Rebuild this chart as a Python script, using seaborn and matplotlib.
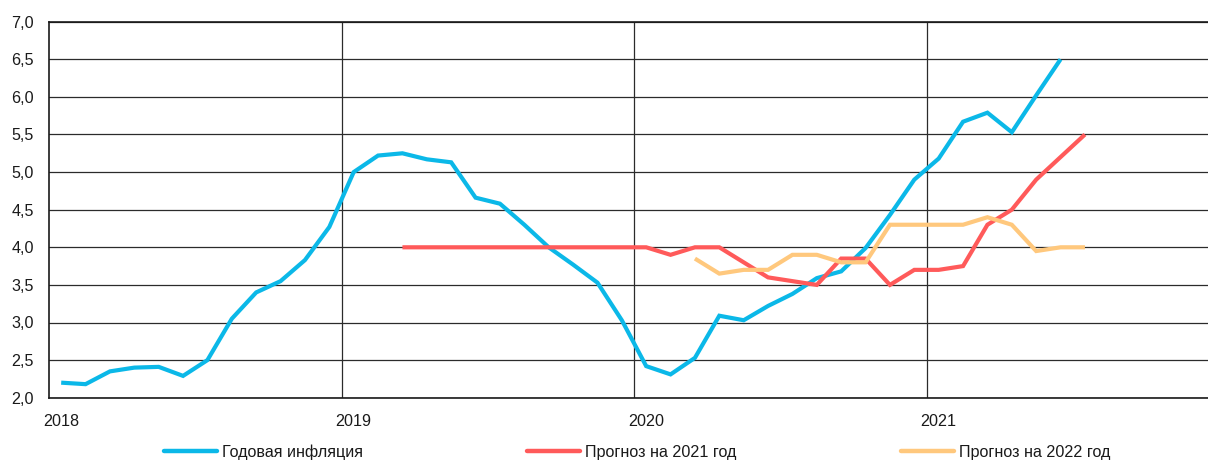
import numpy as np
import pandas as pd
import matplotlib
matplotlib.use("Agg")
import matplotlib.pyplot as plt
import seaborn as sns

# Monthly series, January 2018 onwards (one value per month)
inflation = [2.2, 2.18, 2.35, 2.4, 2.41, 2.29, 2.5, 3.05, 3.4, 3.55, 3.83, 4.27,
             5.0, 5.22, 5.25, 5.17, 5.13, 4.66, 4.58, 4.3, 4.0, 3.77, 3.53, 3.03,
             2.42, 2.31, 2.53, 3.09, 3.03, 3.22, 3.38, 3.59, 3.68, 3.99, 4.43, 4.9,
             5.18, 5.67, 5.79, 5.53, 6.02, 6.5]
forecast_2021_start = 14  # March 2019
forecast_2021 = [4.0, 4.0, 4.0, 4.0, 4.0, 4.0, 4.0, 4.0, 4.0, 4.0,
                 4.0, 3.9, 4.0, 4.0, 3.8, 3.6, 3.55, 3.5, 3.85, 3.85, 3.5, 3.7,
                 3.7, 3.75, 4.3, 4.5, 4.9, 5.2, 5.5]
forecast_2022_start = 26  # March 2020
forecast_2022 = [3.85, 3.65, 3.7, 3.7, 3.9, 3.9, 3.8, 3.8, 4.3, 4.3, 4.3, 4.3,
                 4.4, 4.3, 3.95, 4.0, 4.0]

series_names = ["Годовая инфляция", "Прогноз на 2021 год", "Прогноз на 2022 год"]
series_colors = ["#0BB8E8", "#FF5A5A", "#FFC87D"]
year_labels = ["2018", "2019", "2020", "2021"]
y_ticks = [2.0, 2.5, 3.0, 3.5, 4.0, 4.5, 5.0, 5.5, 6.0, 6.5, 7.0]


def monthly_frame(values, start, name):
    months = np.arange(start, start + len(values))
    return pd.DataFrame({"month": months + 0.5, "value": values, "series": name})


df = pd.concat([
    monthly_frame(inflation, 0, series_names[0]),
    monthly_frame(forecast_2021, forecast_2021_start, series_names[1]),
    monthly_frame(forecast_2022, forecast_2022_start, series_names[2]),
], ignore_index=True)

sns.set_theme(style="white")
plt.rcParams["font.family"] = ["Liberation Sans", "DejaVu Sans"]

FS = 11.6
W, H = 1208, 461
fig = plt.figure(figsize=(W / 100, H / 100), dpi=100)
ax_left, ax_bottom = 49 / W, 1 - 397.7 / H
ax_right, ax_top = 1219 / W, 1 - 21.7 / H
ax = fig.add_axes([ax_left, ax_bottom, ax_right - ax_left, ax_top - ax_bottom])

sns.lineplot(data=df, x="month", y="value", hue="series", hue_order=series_names,
             palette=series_colors, linewidth=3.0, ax=ax, legend=False,
             solid_joinstyle="miter", solid_capstyle="butt")

ax.set_xlim(0, 48)
ax.set_ylim(2.0, 7.0)

# grid: horizontal every 0.5, vertical at year boundaries
for v in y_ticks:
    ax.axhline(v, color="#2b2b2b", lw=0.9, zorder=0)
for k in range(1, len(year_labels)):
    ax.axvline(12 * k, color="#2b2b2b", lw=0.9, zorder=0)

for side in ["left", "bottom", "top"]:
    ax.spines[side].set_color("#1a1a1a")
    ax.spines[side].set_linewidth(1.2)
ax.spines["right"].set_visible(False)

ax.set_yticks(y_ticks)
ax.set_yticklabels([f"{v:.1f}".replace(".", ",") for v in y_ticks])
ax.set_xticks([12 * k + 0.5 for k in range(len(year_labels))])
ax.set_xticklabels(year_labels)
ax.tick_params(axis="y", length=0, pad=11, labelsize=FS, colors="#1a1a1a")
ax.tick_params(axis="x", length=0, pad=12, labelsize=FS, colors="#1a1a1a")
ax.set_xlabel("")
ax.set_ylabel("")

handles = [plt.Line2D([], [], color=c, lw=3.2) for c in series_colors]
fig.legend(handles, series_names, loc="center left",
           bbox_to_anchor=(164 / W, 1 - 452 / H), ncol=3, frameon=False,
           fontsize=FS, handlelength=3.3, handletextpad=0.3,
           columnspacing=10.2, borderpad=0, borderaxespad=0,
           labelcolor="#1a1a1a")

fig.savefig("out.png", dpi=100)
